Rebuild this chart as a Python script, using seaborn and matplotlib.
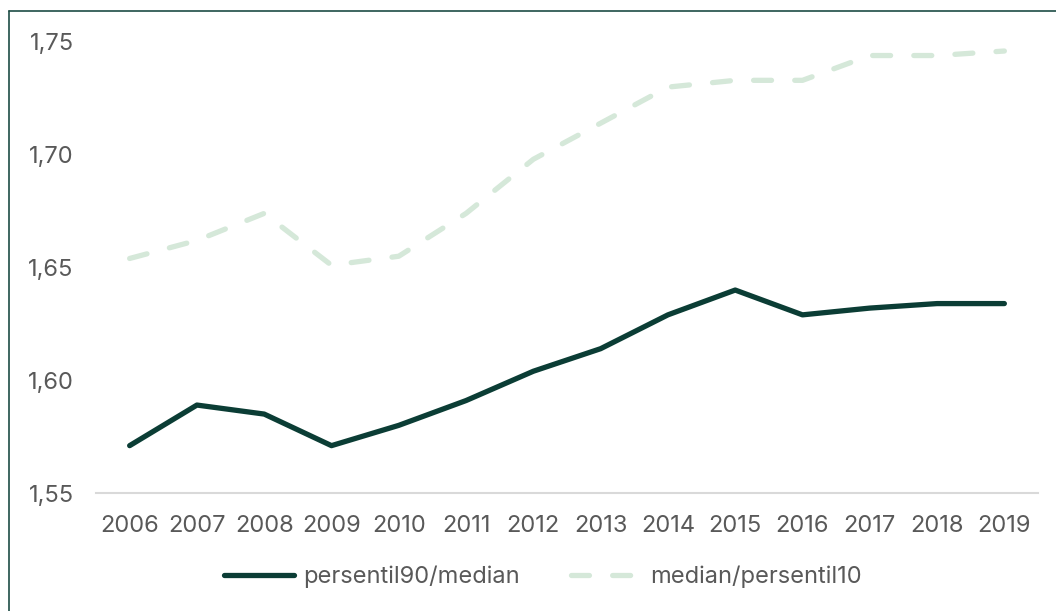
import matplotlib
matplotlib.use("Agg")
import matplotlib.pyplot as plt
import matplotlib.lines as mlines
from matplotlib.ticker import FuncFormatter
import pandas as pd
import seaborn as sn

years = [str(y) for y in range(2006, 2020)]
p90_median = [1.571, 1.589, 1.585, 1.571, 1.580, 1.591, 1.604, 1.614,
              1.629, 1.640, 1.629, 1.632, 1.634, 1.634]
median_p10 = [1.654, 1.662, 1.674, 1.651, 1.655, 1.674, 1.698, 1.714,
              1.730, 1.733, 1.733, 1.744, 1.744, 1.746]
series_names = ["persentil90/median", "median/persentil10"]

DARK = "#0b3d35"
LIGHT = "#d5e8d9"
GREY = "#595959"

sn.set_theme(style="white")
plt.rcParams["font.family"] = ["Inter", "DejaVu Sans"]

df = pd.DataFrame({
    "year": years * 2,
    "value": p90_median + median_p10,
    "series": [series_names[0]] * len(years) + [series_names[1]] * len(years),
})

fig = plt.figure(figsize=(10.56, 6.11), dpi=100)
ax = fig.add_axes([96 / 1056, 118 / 611, 942 / 1056, 451 / 611])

sn.lineplot(
    data=df,
    x="year",
    y="value",
    hue="series",
    style="series",
    palette={series_names[0]: DARK, series_names[1]: LIGHT},
    dashes={series_names[0]: "", series_names[1]: (3.4, 4.4)},
    linewidth=3.8,
    ax=ax,
    legend=False,
    sort=False,
)
for line in ax.lines:
    line.set_solid_capstyle("round")
    line.set_dash_capstyle("round")
    line.set_solid_joinstyle("round")

ax.set_xlim(-0.5, len(years) - 0.5)
ax.set_ylim(1.55, 1.75)
ax.set_yticks([1.55, 1.60, 1.65, 1.70, 1.75])
ax.yaxis.set_major_formatter(FuncFormatter(lambda v, _: f"{v:.2f}".replace(".", ",")))
ax.set(xlabel="", ylabel="")
for side in ["top", "right", "left"]:
    ax.spines[side].set_visible(False)
ax.spines["bottom"].set_color("#d9d9d9")
ax.spines["bottom"].set_linewidth(1.5)
ax.tick_params(axis="both", length=0, labelsize=17, labelcolor=GREY)
ax.tick_params(axis="x", pad=16)
ax.tick_params(axis="y", pad=16)
ax.grid(False)

handles = [
    mlines.Line2D([], [], color=DARK, linewidth=3.8, solid_capstyle="round"),
    mlines.Line2D([], [], color=LIGHT, linewidth=3.8, dashes=(3.4, 4.4),
                  dash_capstyle="round"),
]
fig.legend(
    handles,
    series_names,
    loc="center",
    bbox_to_anchor=(0.514, 0.056),
    ncol=2,
    frameon=False,
    fontsize=17,
    labelcolor=GREY,
    handlelength=3.0,
    handletextpad=0.35,
    columnspacing=2.2,
)

# frame on top and left edges of the chart box
fig.add_artist(mlines.Line2D([9 / 1056, 9 / 1056], [0, 1 - 11 / 611],
                             color="#1e4d45", linewidth=1.2, transform=fig.transFigure))
fig.add_artist(mlines.Line2D([9 / 1056, 1], [1 - 11 / 611, 1 - 11 / 611],
                             color="#1e4d45", linewidth=1.2, transform=fig.transFigure))

fig.savefig("out.png", dpi=100)
